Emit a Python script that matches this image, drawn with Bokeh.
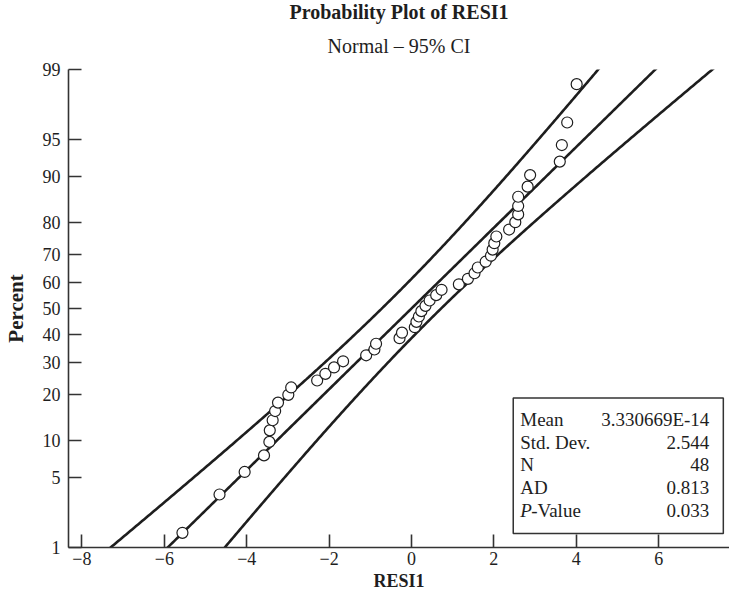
import math
import numpy as np
from bokeh.plotting import figure
from bokeh.models import FixedTicker, Title, Range1d, ColumnDataSource
from bokeh.core.properties import value
from bokeh.embed import file_html
from bokeh.resources import INLINE

# ---------------- data ----------------
resid = [-5.56, -4.66, -4.05, -3.58, -3.45, -3.44, -3.37, -3.31, -3.24, -2.99,
         -2.92, -2.29, -2.09, -1.88, -1.66, -1.10, -0.90, -0.86, -0.29, -0.23,
         0.08, 0.12, 0.18, 0.24, 0.34, 0.44, 0.60, 0.73, 1.15, 1.37,
         1.53, 1.61, 1.80, 1.93, 1.97, 2.01, 2.06, 2.37, 2.52, 2.59,
         2.59, 2.59, 2.82, 2.88, 3.60, 3.65, 3.78, 4.01]
percent = [1.45, 3.51, 5.58, 7.64, 9.71, 11.78, 13.84, 15.91, 17.98, 20.04,
           22.11, 24.17, 26.24, 28.31, 30.37, 32.44, 34.50, 36.57, 38.64, 40.70,
           42.77, 44.83, 46.90, 48.97, 51.03, 53.10, 55.17, 57.23, 59.30, 61.36,
           63.43, 65.50, 67.56, 69.63, 71.69, 73.76, 75.83, 77.89, 79.96, 82.02,
           84.09, 86.16, 88.22, 90.29, 92.36, 94.42, 96.49, 98.55]
y_tick_pct = [1, 5, 10, 20, 30, 40, 50, 60, 70, 80, 90, 95, 99]
x_ticks = [-8, -6, -4, -2, 0, 2, 4, 6, 8]
stat_names = ["Mean", "Std. Dev.", "N", "AD", "P-Value"]
stat_values = ["3.330669E-14", "2.544", "48", "0.813", "0.033"]
mean = 3.330669e-14
sd = 2.544
n = 48

FONT = "Liberation Serif"
INK = "#1e1e1e"


def norm_cdf(z):
    return 0.5 * (1.0 + math.erf(z / math.sqrt(2.0)))


def norm_ppf(p):
    lo, hi = -10.0, 10.0
    for _ in range(100):
        mid = 0.5 * (lo + hi)
        if norm_cdf(mid) < p:
            lo = mid
        else:
            hi = mid
    return 0.5 * (lo + hi)


z_pts = [norm_ppf(v / 100.0) for v in percent]
z_ticks = [norm_ppf(v / 100.0) for v in y_tick_pct]
z_lo, z_hi = z_ticks[0], z_ticks[-1]

# fitted line and 95% CI bands
zz = np.linspace(z_lo - 0.1, z_hi + 0.1, 300)
fit = mean + sd * zz
half = 1.96 * sd * np.sqrt((1.0 + zz ** 2 / 2.0) / n)
lower = fit - half
upper = fit + half

p = figure(width=729, height=593, output_backend="svg", toolbar_location=None,
           x_range=Range1d(-8.326, 7.72), y_range=Range1d(z_lo, z_hi),
           min_border_left=64, min_border_right=0, min_border_top=69,
           min_border_bottom=45)
p.outline_line_color = None
p.xgrid.visible = False
p.ygrid.visible = False
p.background_fill_color = "white"
p.border_fill_color = "white"

# titles (p.title is the outermost, the added one sits next to the frame)
p.title.text = "Probability Plot of RESI1"
p.title.align = "center"
p.title.text_font = FONT
p.title.text_font_size = "20px"
p.title.text_font_style = "bold"
p.title.text_color = INK
p.title.standoff = -5
sub = Title(text="Normal \u2013 95% CI", align="center", text_font=FONT,
            text_font_size="20px", text_font_style="normal", text_color=INK,
            standoff=25)
p.add_layout(sub, "above")

# curves
p.line(lower, zz, line_color=INK, line_width=2.6)
p.line(fit, zz, line_color=INK, line_width=2.6)
p.line(upper, zz, line_color=INK, line_width=2.6)

src = ColumnDataSource(dict(x=resid, y=z_pts))
p.scatter("x", "y", source=src, marker="circle", size=11, fill_color="white",
          line_color=INK, line_width=1.2)

# axes
for ax in (p.xaxis[0], p.yaxis[0]):
    ax.axis_line_color = "#333333"
    ax.axis_line_width = 1.6
    ax.major_tick_line_color = "#333333"
    ax.major_tick_line_width = 1.6
    ax.major_tick_in = 13
    ax.major_tick_out = 0
    ax.minor_tick_line_color = None
    ax.major_label_text_font = FONT
    ax.major_label_text_font_size = "18px"
    ax.major_label_text_color = INK
    ax.axis_label_text_font = FONT
    ax.axis_label_text_font_style = "bold"
    ax.axis_label_text_color = INK

p.xaxis.ticker = FixedTicker(ticks=x_ticks)
p.xaxis.major_label_overrides = {t: (str(t) if t >= 0 else "\u2212" + str(-t)) for t in x_ticks}
p.xaxis.axis_label = "RESI1"
p.xaxis.axis_label_text_font_size = "18px"
p.xaxis.major_label_standoff = 4
p.xaxis.axis_label_standoff = 3

p.yaxis.ticker = FixedTicker(ticks=z_ticks)
p.yaxis.major_label_overrides = {z: str(v) for z, v in zip(z_ticks, y_tick_pct)}
p.yaxis.axis_label = "Percent"
p.yaxis.axis_label_text_font_size = "21px"
p.yaxis.major_label_standoff = 8
p.yaxis.axis_label_standoff = 12

# statistics box (placed in data coordinates of the panel)
box_l, box_r = 2.47, 7.57
box_t, box_b = -0.87, -2.19
p.quad(left=[box_l], right=[box_r], top=[box_t], bottom=[box_b],
       fill_color="white", line_color="#333333", line_width=1.5)
row_z = [-1.085, -1.308, -1.522, -1.745, -1.969]
name_x = 2.64
val_x = 7.23
FS = "19px"
p.text(x=[name_x] * 4, y=row_z[:4], text=stat_names[:4], text_font=value(FONT),
       text_font_size=FS, text_color=INK, text_baseline="middle", text_align="left")
p.text(x=[name_x], y=[row_z[4]], text=["P"], text_font=value(FONT),
       text_font_size=FS, text_font_style="italic", text_color=INK,
       text_baseline="middle", text_align="left")
p.text(x=[name_x], y=[row_z[4]], text=["-Value"], text_font=value(FONT),
       text_font_size=FS, text_color=INK, text_baseline="middle",
       text_align="left", x_offset=11)
p.text(x=[val_x] * 5, y=row_z, text=stat_values, text_font=value(FONT),
       text_font_size=FS, text_color=INK, text_baseline="middle", text_align="right")

open("out.html", "w").write(file_html(p, INLINE))
